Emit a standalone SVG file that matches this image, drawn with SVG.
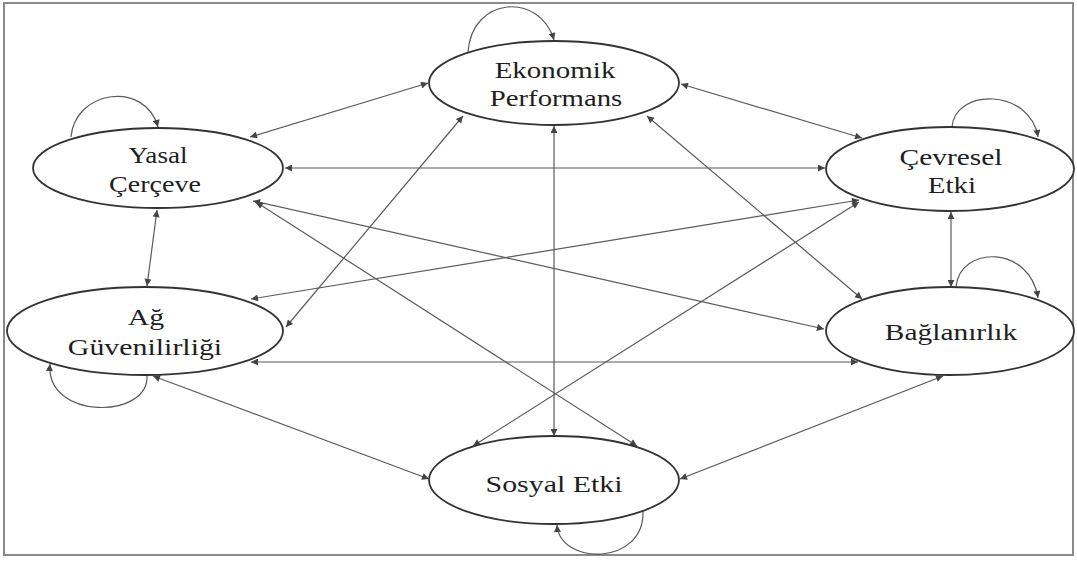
<svg xmlns="http://www.w3.org/2000/svg" width="1077" height="562" viewBox="0 0 1077 562">
  <style>
    .frame { fill: #ffffff; stroke: #8a8a8a; stroke-width: 2; }
    .node ellipse { fill: #ffffff; stroke: #333333; stroke-width: 1.8; }
    .node text { font-family: "Liberation Serif", "Times New Roman", serif; font-size: 23px; fill: #1e1e1e; text-anchor: middle; }
    .edge { fill: none; stroke: #5a5a5a; stroke-width: 1.2; marker-start: url(#ah); marker-end: url(#ah); }
    .loop { fill: none; stroke: #5a5a5a; stroke-width: 1.2; marker-end: url(#ah); }
  </style>
  <defs>
    <marker id="ah" viewBox="0 0 10 10" refX="10" refY="5" markerWidth="10" markerHeight="7" markerUnits="userSpaceOnUse" orient="auto-start-reverse">
      <path d="M0,0 L10,5 L0,10 z" fill="#444444"/>
    </marker>
  </defs>
  <rect class="frame" x="4" y="3" width="1069" height="552"/>

  <g id="connectors">
    <line class="edge" x1="250" y1="137" x2="428" y2="83"/>
    <line class="edge" x1="285" y1="168" x2="825" y2="168"/>
    <line class="edge" x1="157" y1="210" x2="147" y2="286"/>
    <line class="edge" x1="253" y1="201" x2="824" y2="329"/>
    <line class="edge" x1="256" y1="202" x2="637" y2="446"/>
    <line class="edge" x1="681" y1="84" x2="862" y2="138"/>
    <line class="edge" x1="647" y1="116" x2="862" y2="299"/>
    <line class="edge" x1="463" y1="116" x2="286" y2="327"/>
    <line class="edge" x1="554" y1="126" x2="554" y2="436"/>
    <line class="edge" x1="859" y1="200" x2="251" y2="299"/>
    <line class="edge" x1="859" y1="202" x2="473" y2="446"/>
    <line class="edge" x1="951" y1="212" x2="951" y2="287"/>
    <line class="edge" x1="251" y1="362" x2="858" y2="362"/>
    <line class="edge" x1="153" y1="376" x2="429" y2="479"/>
    <line class="edge" x1="943" y1="376" x2="680" y2="479"/>
    <path class="loop" d="M468,52 C472,-4 540,-8 554,40"/>
    <path class="loop" d="M71,137 C75,90 145,80 158,127"/>
    <path class="loop" d="M952,127 C955,88 1030,88 1038,137"/>
    <path class="loop" d="M956,287 C960,245 1030,245 1038,298"/>
    <path class="loop" d="M147,375 C150,420 45,420 50,364"/>
    <path class="loop" d="M643,511 C645,566 560,566 557,525"/>
  </g>

  <g id="node-ekonomik" class="node">
    <ellipse cx="554" cy="83" rx="125" ry="42"/>
    <text transform="translate(555,78) scale(1.26,1)">Ekonomik</text>
    <text transform="translate(556,106) scale(1.25,1)">Performans</text>
  </g>
  <g id="node-yasal" class="node">
    <ellipse cx="158" cy="168" rx="125" ry="40"/>
    <text transform="translate(158,163) scale(1.18,1)">Yasal</text>
    <text transform="translate(155,192) scale(1.22,1)">Çerçeve</text>
  </g>
  <g id="node-cevresel" class="node">
    <ellipse cx="950" cy="169" rx="124" ry="42"/>
    <text transform="translate(951,165) scale(1.28,1)">Çevresel</text>
    <text transform="translate(952,193) scale(1.26,1)">Etki</text>
  </g>
  <g id="node-ag" class="node">
    <ellipse cx="145" cy="331" rx="138" ry="44"/>
    <text transform="translate(146,325) scale(1.3,1)">Ağ</text>
    <text transform="translate(145,355) scale(1.3,1)">Güvenilirliği</text>
  </g>
  <g id="node-baglanirlik" class="node">
    <ellipse cx="950" cy="331" rx="124" ry="44"/>
    <text transform="translate(951,340) scale(1.28,1)">Bağlanırlık</text>
  </g>
  <g id="node-sosyal" class="node">
    <ellipse cx="554" cy="480" rx="125" ry="44"/>
    <text transform="translate(554,492) scale(1.3,1)">Sosyal Etki</text>
  </g>
</svg>
